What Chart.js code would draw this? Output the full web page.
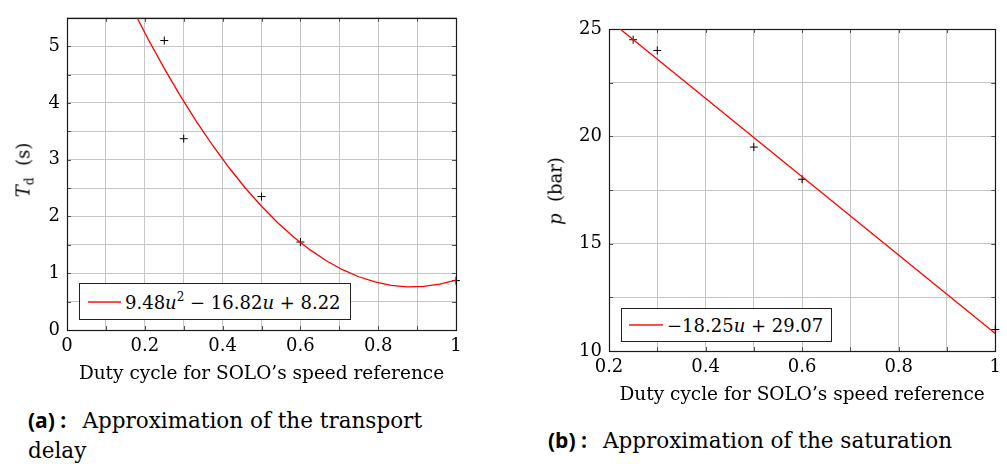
<!DOCTYPE html>
<html>
<head>
<meta charset="utf-8">
<script src="https://cdn.jsdelivr.net/npm/chart.js@4.4.1/dist/chart.umd.min.js"></script>
<style>
  html, body { margin:0; padding:0; background:#fff; }
  #page { position:relative; width:1007px; height:464px; overflow:hidden; font-family:"DejaVu Serif", serif; color:#000; }
  .box { position:absolute; }
  .ytitle { position:absolute; transform:translate(-50%,-50%) rotate(-90deg); white-space:nowrap; font-size:18px; }
  .legend { position:absolute; border:1px solid #222; background:#fff; box-sizing:border-box; white-space:nowrap; font-size:18px; }
  .legend .ln { position:absolute; height:2px; background:#ff0000; transform:scaleY(0.7); }
  .legend .tx { position:absolute; top:50%; transform:translateY(-50%); }
  .cap { position:absolute; white-space:nowrap; font-size:21.5px; line-height:30px; }
  .cap b { font-family:"Open Sans", sans-serif; font-weight:700; font-size:21px; margin-right:16px; }
  sup { font-size:12px; vertical-align:0; position:relative; top:-8px; }
  sub { font-size:12px; vertical-align:0; position:relative; top:4px; }
</style>
</head>
<body>
<div id="page">
  <div class="box" style="left:0;top:0;"><canvas id="c1" width="470" height="390"></canvas></div>
  <div class="box" style="left:520px;top:0;"><canvas id="c2" width="487" height="411"></canvas></div>

  <div class="ytitle" style="left:23px;top:170px;"><i>T</i><sub>d</sub>&nbsp; (s)</div>
  <div class="ytitle" style="left:555px;top:191px;"><i>p</i>&nbsp; (bar)</div>

  <div class="legend" style="left:79px;top:283px;width:272px;height:37px;">
    <span class="ln" style="left:8px;top:17px;width:33px;"></span>
    <span class="tx" style="left:45px;">9.48<i>u</i><sup>2</sup> − 16.82<i>u</i> + 8.22</span>
  </div>
  <div class="legend" style="left:621px;top:308px;width:211px;height:34px;">
    <span class="ln" style="left:7px;top:15px;width:34px;"></span>
    <span class="tx" style="left:45px;">−18.25<i>u</i> + 29.07</span>
  </div>

  <div class="cap" style="left:28px;top:405px;"><b>(a) :</b>Approximation of the transport<br>delay</div>
  <div class="cap" style="left:548px;top:425px;"><b>(b) :</b>Approximation of the saturation</div>
</div>
<script>
// ---- Data (a): transport delay ----
const delayU = [0.25, 0.3, 0.5, 0.6, 1.0];
const delayT = [5.10, 3.37, 2.35, 1.55, 0.87];
const delayFitU = [0.1667, 0.2083, 0.25, 0.2917, 0.3333, 0.375, 0.4167, 0.4583, 0.5, 0.5417, 0.5833, 0.625, 0.6667, 0.7083, 0.75, 0.7917, 0.8333, 0.875, 0.9167, 0.9583, 1.0];
const delayFitT = [5.68, 5.127, 4.608, 4.121, 3.667, 3.246, 2.858, 2.502, 2.18, 1.891, 1.634, 1.411, 1.22, 1.062, 0.938, 0.846, 0.787, 0.761, 0.768, 0.807, 0.88];
const delayXTicks = [0, 0.2, 0.4, 0.6, 0.8, 1];
const delayYTicks = [0, 1, 2, 3, 4, 5];
const delayXLabels = ["0", "0.2", "0.4", "0.6", "0.8", "1"];
const delayYLabels = ["0", "1", "2", "3", "4", "5"];

// ---- Data (b): saturation ----
const satU = [0.25, 0.3, 0.5, 0.6, 1.0];
const satP = [24.5, 24.0, 19.5, 18.0, 11.0];
const satFitU = [0.2, 1.0];
const satFitP = [25.42, 10.82];
const satXTicks = [0.2, 0.4, 0.6, 0.8, 1];
const satYTicks = [10, 15, 20, 25];
const satXLabels = ["0.2", "0.4", "0.6", "0.8", "1"];
const satYLabels = ["10", "15", "20", "25"];

const TICKFONT = { family: "'DejaVu Serif', serif", size: 18 };
const TITLEFONT = { family: "'DejaVu Serif', serif", size: 18.5 };

function labelFor(ticks, labels) {
  return function(v) {
    for (let i = 0; i < ticks.length; i++) if (Math.abs(ticks[i] - v) < 1e-6) return labels[i];
    return '';
  };
}

const framePlugin = {
  id: 'frame',
  beforeDatasetsDraw(chart) {
    const {ctx, chartArea: a, scales} = chart;
    ctx.save();
    ctx.strokeStyle = '#555';
    ctx.lineWidth = 1;
    ctx.beginPath();
    scales.x.ticks.forEach(t => {
      const px = Math.round(scales.x.getPixelForValue(t.value)) + 0.5;
      ctx.moveTo(px, a.bottom); ctx.lineTo(px, a.bottom - 4);
      ctx.moveTo(px, a.top); ctx.lineTo(px, a.top + 4);
    });
    scales.y.ticks.forEach(t => {
      const py = Math.round(scales.y.getPixelForValue(t.value)) + 0.5;
      ctx.moveTo(a.left, py); ctx.lineTo(a.left + 4, py);
      ctx.moveTo(a.right, py); ctx.lineTo(a.right - 4, py);
    });
    ctx.stroke();
    ctx.strokeStyle = '#1a1a1a';
    ctx.lineWidth = 1.2;
    ctx.strokeRect(Math.round(a.left) + 0.5, Math.round(a.top) + 0.5, Math.round(a.right - a.left), Math.round(a.bottom - a.top));
    ctx.restore();
  }
};

function makeChart(id, cfg) {
  return new Chart(document.getElementById(id), {
    data: {
      datasets: [
        { type: 'line', data: cfg.fitX.map((x, i) => ({x, y: cfg.fitY[i]})), borderColor: '#ff0000', borderWidth: 1.3, pointRadius: 0, fill: false, tension: 0 },
        { type: 'scatter', data: cfg.ptX.map((x, i) => ({x, y: cfg.ptY[i]})), pointStyle: 'cross', pointRadius: 4, borderColor: '#000', backgroundColor: '#000', borderWidth: 1, clip: false }
      ]
    },
    options: {
      responsive: false,
      animation: false,
      devicePixelRatio: 1,
      layout: { padding: cfg.padding },
      plugins: { legend: { display: false }, tooltip: { enabled: false } },
      scales: {
        x: {
          type: 'linear', min: cfg.xmin, max: cfg.xmax,
          afterFit: s => { s.height = 60; },
          ticks: { stepSize: 0.1, autoSkip: false, maxRotation: 0, padding: 6, color: '#000', font: TICKFONT, callback: labelFor(cfg.xTicks, cfg.xLabels) },
          grid: { color: '#c6c6c6', lineWidth: 1, drawTicks: false },
          border: { display: false },
          title: { display: true, text: 'Duty cycle for SOLO’s speed reference', color: '#000', font: TITLEFONT, padding: { top: 0, bottom: 5 } }
        },
        y: {
          type: 'linear', min: cfg.ymin, max: cfg.ymax,
          afterFit: s => { s.width = cfg.yWidth; },
          ticks: { stepSize: cfg.yStep, autoSkip: false, padding: 7, color: '#000', font: TICKFONT, callback: labelFor(cfg.yTicks, cfg.yLabels) },
          grid: { color: '#c6c6c6', lineWidth: 1, drawTicks: false },
          border: { display: false }
        }
      }
    },
    plugins: [framePlugin]
  });
}

makeChart('c1', {
  fitX: delayFitU, fitY: delayFitT, ptX: delayU, ptY: delayT,
  xmin: 0, xmax: 1, ymin: 0, ymax: 5.5, yStep: 0.5,
  xTicks: delayXTicks, xLabels: delayXLabels, yTicks: delayYTicks, yLabels: delayYLabels,
  yWidth: 67, padding: { top: 7, right: 14, left: 0, bottom: 0 }
});
makeChart('c2', {
  fitX: satFitU, fitY: satFitP, ptX: satU, ptY: satP,
  xmin: 0.2, xmax: 1, ymin: 10, ymax: 25, yStep: 2.5,
  xTicks: satXTicks, xLabels: satXLabels, yTicks: satYTicks, yLabels: satYLabels,
  yWidth: 89, padding: { top: 29, right: 9, left: 0, bottom: 0 }
});
</script>
</body>
</html>
